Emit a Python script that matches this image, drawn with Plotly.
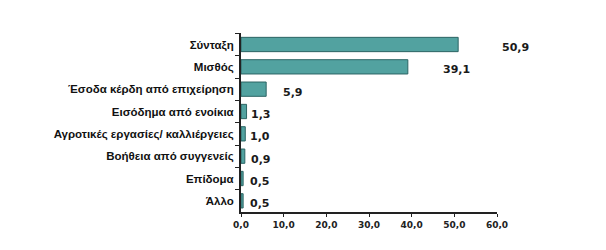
import plotly.graph_objects as go

categories = ["Σύνταξη", "Μισθός", "Έσοδα κέρδη από επιχείρηση", "Εισόδημα από ενοίκια",
              "Αγροτικές εργασίες/ καλλιέργειες", "Βοήθεια από συγγενείς", "Επίδομα", "Άλλο"]
values = [50.9, 39.1, 5.9, 1.3, 1.0, 0.9, 0.5, 0.5]
x_ticks = [0, 10, 20, 30, 40, 50, 60]

# style-only offsets for the value labels (px)
label_shift = [42, 33, 15, 2, 3, 4, 5, 5]

fig = go.Figure()
fig.add_trace(go.Bar(
    y=categories, x=values, orientation="h",
    marker=dict(color="#52a2a0", line=dict(color="#2c6564", width=1)),
    hoverinfo="skip",
))

for c, v, s in zip(categories, values, label_shift):
    fig.add_annotation(x=v, y=c, text=f"<b>{v:.1f}</b>".replace(".", ","),
                       xanchor="left", yanchor="middle", xshift=s, yshift=-3,
                       showarrow=False,
                       font=dict(family="DejaVu Sans", size=11, color="#1a1a1a"))

fig.update_layout(
    width=606, height=250, autosize=False,
    margin=dict(l=241, r=109, t=33, b=38),
    paper_bgcolor="white", plot_bgcolor="white",
    bargap=0.36, showlegend=False,
    separators=",.",
)
fig.update_xaxes(
    range=[0, 60], tickvals=x_ticks, tickformat=".1f",
    showgrid=False, zeroline=False,
    showline=True, linecolor="#222", linewidth=2,
    ticks="outside", ticklen=3, tickwidth=1, tickcolor="#222",
    tickfont=dict(family="DejaVu Sans", size=9, color="#222", weight="bold"),
)
fig.update_yaxes(
    categoryorder="array", categoryarray=categories, autorange="reversed",
    showgrid=False, zeroline=False,
    showline=True, linecolor="#222", linewidth=2,
    ticks="outside", ticklen=4, tickwidth=1, tickcolor="#222", tickson="boundaries",
    ticklabelstandoff=3,
    tickfont=dict(family="Liberation Sans", size=11.5, color="#111", weight="bold"),
)

fig.write_html("out.html")
